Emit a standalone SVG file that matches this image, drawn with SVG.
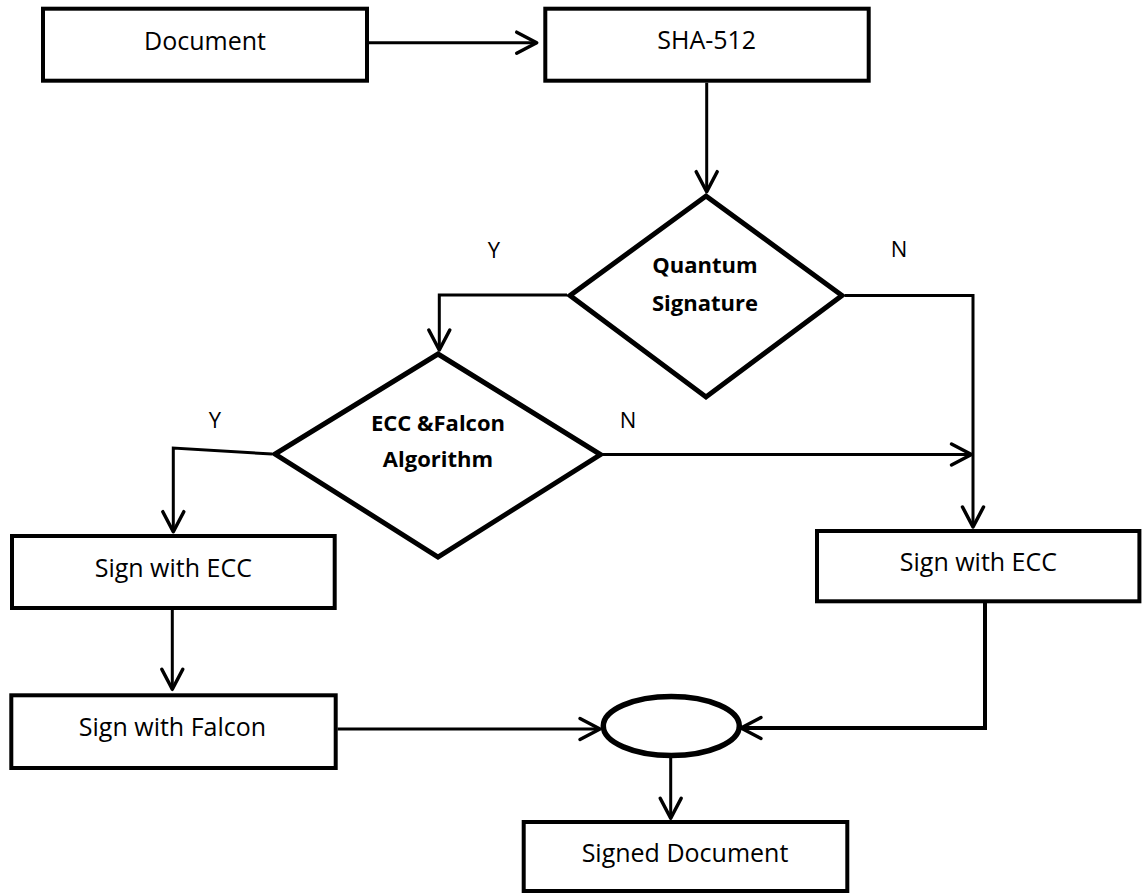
<svg xmlns="http://www.w3.org/2000/svg" width="1147" height="895" viewBox="0 0 1147 895">
  <style>
    .box { fill: #ffffff; stroke: #000000; stroke-width: 4; }
    .dia { fill: #ffffff; stroke: #000000; stroke-width: 5; stroke-linejoin: miter; }
    .ell { fill: #ffffff; stroke: #000000; stroke-width: 5.5; }
    .con { fill: none; stroke: #000000; stroke-width: 3; }
    .con4 { fill: none; stroke: #000000; stroke-width: 4; }
    .t { font-family: "Open Sans", "Liberation Sans", sans-serif; font-size: 25px; fill: #000000; text-anchor: middle; }
    .tb { font-family: "Open Sans", "Liberation Sans", sans-serif; font-size: 22px; font-weight: bold; fill: #000000; text-anchor: middle; }
    .lbl { font-family: "Open Sans", "Liberation Sans", sans-serif; font-size: 22px; fill: #000000; text-anchor: middle; }
  </style>
  <defs>
    <marker id="arr" markerUnits="userSpaceOnUse" markerWidth="30" markerHeight="30" refX="0" refY="0" orient="auto" overflow="visible">
      <path d="M-20,-10.5 L0,0 L-20,10.5" fill="none" stroke="#000000" stroke-width="3.5" stroke-linecap="round" stroke-linejoin="round"/>
    </marker>
  </defs>
  <rect width="1147" height="895" fill="#ffffff"/>

  <g id="connectors">
    <path class="con" d="M369,42.7 H536.7" marker-end="url(#arr)"/>
    <path class="con" d="M706.7,82.7 V191.7" marker-end="url(#arr)"/>
    <path class="con" d="M567,295 H439.3 V350" marker-end="url(#arr)"/>
    <path class="con" d="M845,295.5 H973 V527" marker-end="url(#arr)"/>
    <path class="con" d="M603,454.5 H971.5" marker-end="url(#arr)"/>
    <path class="con" d="M272,454 L173.3,448 V531.7" marker-end="url(#arr)"/>
    <path class="con" d="M172.3,610 V689.3" marker-end="url(#arr)"/>
    <path class="con" d="M337.5,729 H600" marker-end="url(#arr)"/>
    <path class="con4" d="M985,603 V728 H741" marker-end="url(#arr)"/>
    <path class="con" d="M670.7,757 V818.3" marker-end="url(#arr)"/>
  </g>

  <g id="document">
    <rect class="box" x="43" y="8.7" width="324" height="72"/>
    <text class="t" x="205" y="50">Document</text>
  </g>

  <g id="sha512">
    <rect class="box" x="545.3" y="8.7" width="323.4" height="72"/>
    <text class="t" x="706.7" y="49">SHA-512</text>
  </g>

  <g id="quantum">
    <polygon class="dia" points="706,196 842,295.5 706,397 570,295.5"/>
    <text class="tb" x="705" y="273">Quantum</text>
    <text class="tb" x="705" y="310.5">Signature</text>
  </g>

  <g id="eccfalcon">
    <polygon class="dia" points="438,354 600.5,454.5 438,557 275,454"/>
    <text class="tb" x="438" y="431">ECC &amp;Falcon</text>
    <text class="tb" x="438" y="467">Algorithm</text>
  </g>

  <g id="labels">
    <text class="lbl" x="494" y="258">Y</text>
    <text class="lbl" x="899" y="257">N</text>
    <text class="lbl" x="215" y="428">Y</text>
    <text class="lbl" x="628" y="428">N</text>
  </g>

  <g id="sign-ecc-left">
    <rect class="box" x="12" y="536" width="322.7" height="72"/>
    <text class="t" x="173.3" y="576.7">Sign with ECC</text>
  </g>

  <g id="sign-falcon">
    <rect class="box" x="11.3" y="695.3" width="324.4" height="72.7"/>
    <text class="t" x="172.5" y="736">Sign with Falcon</text>
  </g>

  <g id="sign-ecc-right">
    <rect class="box" x="817" y="531" width="322.4" height="70.3"/>
    <text class="t" x="978.4" y="570.7">Sign with ECC</text>
  </g>

  <g id="join">
    <ellipse class="ell" cx="671.3" cy="726" rx="68" ry="29.5"/>
  </g>

  <g id="signed-document">
    <rect class="box" x="523.7" y="822" width="323.6" height="69"/>
    <text class="t" x="685" y="861.7">Signed Document</text>
  </g>
</svg>
